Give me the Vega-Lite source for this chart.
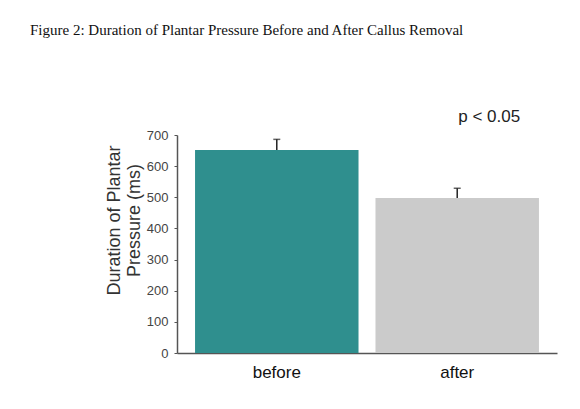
{
  "$schema": "https://vega.github.io/schema/vega-lite/v6.json",
  "width": 380,
  "height": 218,
  "autosize": {"type": "none"},
  "padding": {"left": 177, "top": 135, "right": 23, "bottom": 56},
  "background": "white",
  "title": {
    "text": "Figure 2: Duration of Plantar Pressure Before and After Callus Removal",
    "anchor": "start",
    "frame": "group",
    "dx": -147,
    "offset": 70,
    "font": "Liberation Serif",
    "fontSize": 15,
    "fontWeight": "normal",
    "color": "#111"
  },
  "config": {
    "view": {"stroke": null},
    "axis": {"grid": false},
    "axisY": {
      "labelOverlap": false,
      "labelFlush": false,
      "labelBound": false,
      "titleFont": "Liberation Sans",
      "titleFontSize": 18,
      "titleFontWeight": "normal",
      "titleColor": "#333",
      "titleLineHeight": 20,
      "titleX": -54,
      "titleY": 85,
      "titleAngle": -90,
      "titleAlign": "center",
      "titleBaseline": "bottom",
      "labelFont": "Liberation Sans",
      "labelFontSize": 13,
      "labelColor": "#444",
      "labelPadding": 6,
      "tickSize": 3,
      "tickColor": "#555",
      "domainColor": "#555",
      "domainWidth": 1.5
    }
  },
  "data": {
    "values": [
      {"group": "before", "value": 652, "upper": 686},
      {"group": "after", "value": 498, "upper": 529}
    ]
  },
  "encoding": {
    "x": {
      "field": "group",
      "type": "nominal",
      "sort": ["before", "after"],
      "scale": {"paddingInner": 0.094, "paddingOuter": 0.1},
      "axis": {
        "title": null,
        "labelAngle": 0,
        "labelFont": "Liberation Sans",
        "labelFontSize": 17,
        "labelColor": "#111",
        "labelPadding": 11,
        "ticks": false,
        "domainColor": "#555",
        "domainWidth": 1.5
      }
    }
  },
  "layer": [
    {
      "mark": {"type": "bar"},
      "encoding": {
        "y": {
          "field": "value",
          "type": "quantitative",
          "scale": {"domain": [0, 700], "nice": false},
          "axis": {"values": [0, 100, 200, 300, 400, 500, 600, 700], "tickCount": 10, "title": ["Duration of Plantar", "Pressure (ms)"]}
        },
        "color": {
          "field": "group",
          "type": "nominal",
          "scale": {"domain": ["before", "after"], "range": ["#2f8f8e", "#cbcbcb"]},
          "legend": null
        }
      }
    },
    {
      "mark": {"type": "rule", "color": "#222", "strokeWidth": 1.5},
      "encoding": {
        "y": {"field": "value", "type": "quantitative", "axis": {"values": [0, 100, 200, 300, 400, 500, 600, 700], "tickCount": 10, "title": ["Duration of Plantar", "Pressure (ms)"]}},
        "y2": {"field": "upper"}
      }
    },
    {
      "mark": {"type": "tick", "color": "#222", "size": 7, "thickness": 1.5, "orient": "horizontal"},
      "encoding": {
        "y": {"field": "upper", "type": "quantitative", "axis": {"values": [0, 100, 200, 300, 400, 500, 600, 700], "tickCount": 10, "title": ["Duration of Plantar", "Pressure (ms)"]}}
      }
    },
    {
      "data": {"values": [{"group": "after", "y": 758, "label": "p < 0.05"}]},
      "mark": {"type": "text", "font": "Liberation Sans", "fontSize": 17, "color": "#222", "dx": 32},
      "encoding": {
        "y": {"field": "y", "type": "quantitative", "axis": {"values": [0, 100, 200, 300, 400, 500, 600, 700], "tickCount": 10, "title": ["Duration of Plantar", "Pressure (ms)"]}},
        "text": {"field": "label"}
      }
    }
  ]
}
